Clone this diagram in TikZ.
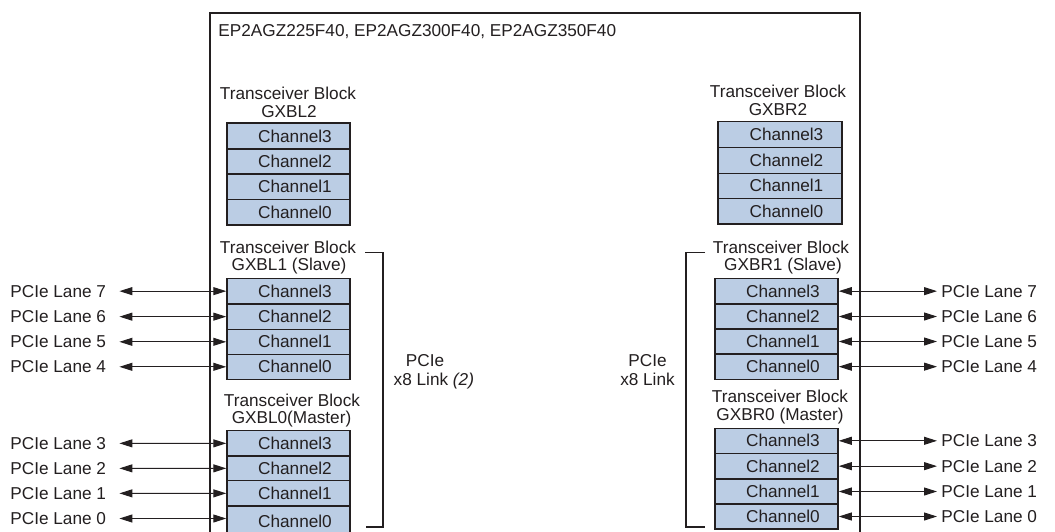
\documentclass[tikz,border=0pt]{standalone}
\usepackage{fontspec}
\setmainfont{Liberation Sans}
\usetikzlibrary{arrows.meta}
\definecolor{txt}{RGB}{35,31,32}
\definecolor{linec}{RGB}{35,31,32}
\definecolor{chanfill}{RGB}{187,205,228}
\tikzset{
  lbl/.style={font=\fontsize{8.6pt}{10pt}\selectfont, text=txt, inner sep=0pt},
  chanbox/.style={draw=linec, line width=0.75pt, fill=chanfill, font=\fontsize{8.6pt}{10pt}\selectfont, text=txt, inner sep=0pt},
  biarrow/.style={draw=linec, line width=0.5pt, {Triangle[length=6.5pt,width=4pt]}-{Triangle[length=6.5pt,width=4pt]}},
  bracketline/.style={draw=linec, line width=0.55pt},
  outerline/.style={draw=linec, line width=0.65pt},
}
% name, x1, x2, top, bottom, text
\newcommand\chanbx[6]{\node[chanbox, minimum width={(#3-#2)*0.5pt}, minimum height={(#5-#4)*0.5pt}] (#1) at ({(#2+#3)/2},{(#4+#5)/2}) {\hspace{6.5pt}#6};}
\begin{document}
\begin{tikzpicture}[x=0.5pt,y=-0.5pt]
\path[use as bounding box, clip] (0,0) rectangle (1055,531);
\fill[white] (0,0) rectangle (1055,531);

% outer device box
\draw[outerline] (210,545) |- (860,13) -- (860,545);
\node[lbl, anchor=base west] (title) at (218,36) {EP2AGZ225F40, EP2AGZ300F40, EP2AGZ350F40};

% ---------- left side ----------
\node[lbl, anchor=base] (L2a) at (288,99.5) {Transceiver Block};
\node[lbl, anchor=base] (L2b) at (289,117) {GXBL2};
\chanbx{L2c3}{227}{350}{123}{149}{Channel3}
\chanbx{L2c2}{227}{350}{149}{174}{Channel2}
\chanbx{L2c1}{227}{350}{174}{199.5}{Channel1}
\chanbx{L2c0}{227}{350}{199.5}{225}{Channel0}

\node[lbl, anchor=base] (L1a) at (288,253.5) {Transceiver Block};
\node[lbl, anchor=base] (L1b) at (289,270.5) {GXBL1 (Slave)};
\chanbx{L1c3}{227}{350}{278.3}{304}{Channel3}
\chanbx{L1c2}{227}{350}{304}{329.3}{Channel2}
\chanbx{L1c1}{227}{350}{329.3}{354.3}{Channel1}
\chanbx{L1c0}{227}{350}{354.3}{379.3}{Channel0}

\node[lbl, anchor=base] (L0a) at (292,406) {Transceiver Block};
\node[lbl, anchor=base] (L0b) at (291.5,423.5) {GXBL0(Master)};
\chanbx{L0c3}{227}{350}{430.7}{456}{Channel3}
\chanbx{L0c2}{227}{350}{456}{480.7}{Channel2}
\chanbx{L0c1}{227}{350}{480.7}{506}{Channel1}
\chanbx{L0c0}{227}{350}{506}{537}{Channel0}

% left lane labels
\node[lbl, anchor=west] (ll7) at (10,291.15) {PCIe Lane 7};
\node[lbl, anchor=west] (ll6) at (10,316.65) {PCIe Lane 6};
\node[lbl, anchor=west] (ll5) at (10,341.8) {PCIe Lane 5};
\node[lbl, anchor=west] (ll4) at (10,366.8) {PCIe Lane 4};
\node[lbl, anchor=west] (ll3) at (10,443.35) {PCIe Lane 3};
\node[lbl, anchor=west] (ll2) at (10,468.35) {PCIe Lane 2};
\node[lbl, anchor=west] (ll1) at (10,493.35) {PCIe Lane 1};
\node[lbl, anchor=west] (ll0) at (10,518.5) {PCIe Lane 0};
\draw[biarrow] ([xshift=6.5pt]ll7.east) -- (L1c3.west);
\draw[biarrow] ([xshift=6.5pt]ll6.east) -- (L1c2.west);
\draw[biarrow] ([xshift=6.5pt]ll5.east) -- (L1c1.west);
\draw[biarrow] ([xshift=6.5pt]ll4.east) -- (L1c0.west);
\draw[biarrow] ([xshift=6.5pt]ll3.east) -- (L0c3.west);
\draw[biarrow] ([xshift=6.5pt]ll2.east) -- (L0c2.west);
\draw[biarrow] ([xshift=6.5pt]ll1.east) -- (L0c1.west);
\draw[biarrow] ([xshift=6.5pt]ll0.east) -- ([yshift=0pt]L0c0.west |- ll0.east);

% left bracket and label
\coordinate (lbt) at (365,252.5);
\coordinate (lbb) at (366,527);
\draw[bracketline] (lbt) -| (383,527) -- (lbb);
\node[lbl, anchor=base] (lp1) at (425,366.5) {PCIe};
\node[lbl, anchor=base west] (lp2) at (393.3,385) {x8 Link \textit{(2)}};

% ---------- right side ----------
\node[lbl, anchor=base] (R2a) at (778,97) {Transceiver Block};
\node[lbl, anchor=base] (R2b) at (778,115.5) {GXBR2};
\chanbx{R2c3}{718}{842}{121.7}{147.7}{Channel3}
\chanbx{R2c2}{718}{842}{147.7}{173.3}{Channel2}
\chanbx{R2c1}{718}{842}{173.3}{198.3}{Channel1}
\chanbx{R2c0}{718}{842}{198.3}{224}{Channel0}

\node[lbl, anchor=base] (R1a) at (781,253) {Transceiver Block};
\node[lbl, anchor=base] (R1b) at (783,270.5) {GXBR1 (Slave)};
\chanbx{R1c3}{715}{838}{278.3}{304}{Channel3}
\chanbx{R1c2}{715}{838}{304}{329}{Channel2}
\chanbx{R1c1}{715}{838}{329}{354}{Channel1}
\chanbx{R1c0}{715}{838}{354}{379.3}{Channel0}

\node[lbl, anchor=base] (R0a) at (780,402.7) {Transceiver Block};
\node[lbl, anchor=base] (R0b) at (780,420.3) {GXBR0 (Master)};
\chanbx{R0c3}{715}{838}{428.3}{453.3}{Channel3}
\chanbx{R0c2}{715}{838}{453.3}{479}{Channel2}
\chanbx{R0c1}{715}{838}{479}{504}{Channel1}
\chanbx{R0c0}{715}{838}{504}{529}{Channel0}

% right lane labels
\node[lbl, anchor=west] (rl7) at (941,291.15) {PCIe Lane 7};
\node[lbl, anchor=west] (rl6) at (941,316.5) {PCIe Lane 6};
\node[lbl, anchor=west] (rl5) at (941,341.5) {PCIe Lane 5};
\node[lbl, anchor=west] (rl4) at (941,366.65) {PCIe Lane 4};
\node[lbl, anchor=west] (rl3) at (941,440.8) {PCIe Lane 3};
\node[lbl, anchor=west] (rl2) at (941,466.15) {PCIe Lane 2};
\node[lbl, anchor=west] (rl1) at (941,491.5) {PCIe Lane 1};
\node[lbl, anchor=west] (rl0) at (941,516.5) {PCIe Lane 0};
\draw[biarrow] (R1c3.east) -- ([xshift=-2pt]rl7.west);
\draw[biarrow] (R1c2.east) -- ([xshift=-2pt]rl6.west);
\draw[biarrow] (R1c1.east) -- ([xshift=-2pt]rl5.west);
\draw[biarrow] (R1c0.east) -- ([xshift=-2pt]rl4.west);
\draw[biarrow] (R0c3.east) -- ([xshift=-2pt]rl3.west);
\draw[biarrow] (R0c2.east) -- ([xshift=-2pt]rl2.west);
\draw[biarrow] (R0c1.east) -- ([xshift=-2pt]rl1.west);
\draw[biarrow] (R0c0.east) -- ([xshift=-2pt]rl0.west);

% right bracket and label
\coordinate (rbt) at (705,252.7);
\coordinate (rbb) at (705,527);
\draw[bracketline] (rbt) -| (686,527) -- (rbb);
\node[lbl, anchor=base] (rp1) at (647.5,366) {PCIe};
\node[lbl, anchor=base] (rp2) at (647.5,385) {x8 Link};
\end{tikzpicture}
\end{document}
